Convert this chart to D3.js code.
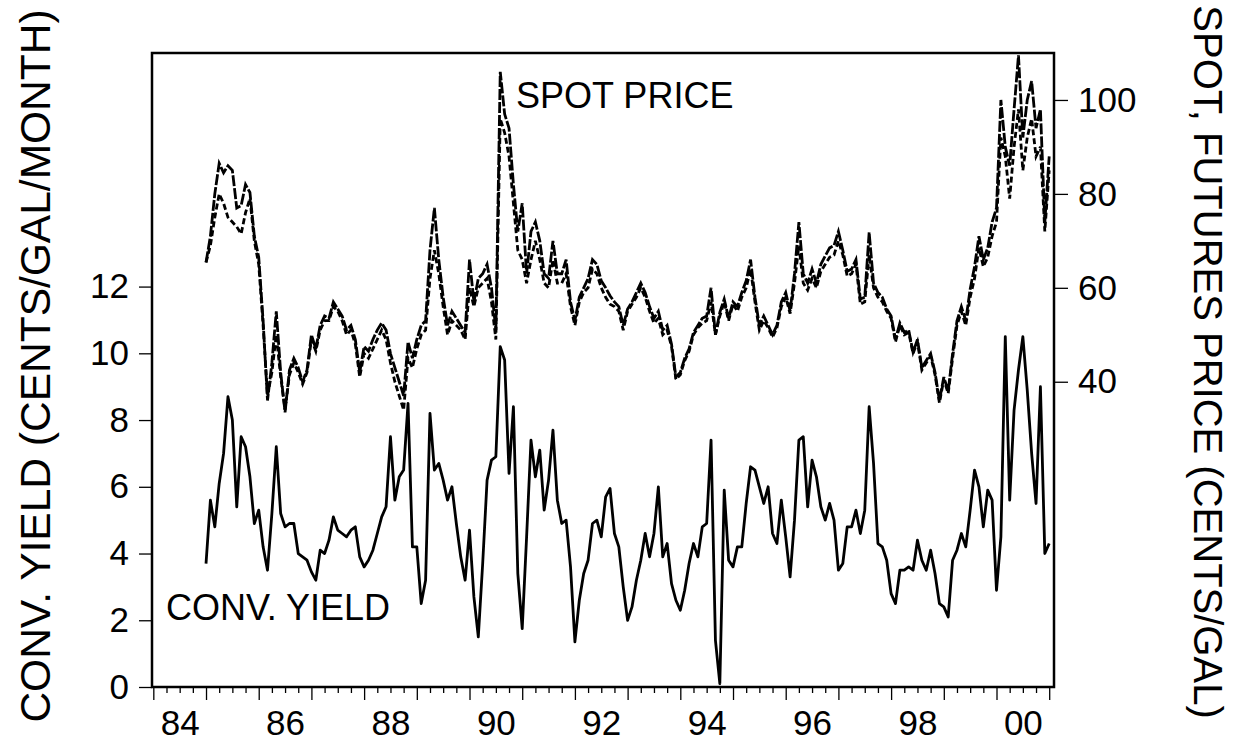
<!DOCTYPE html>
<html>
<head>
<meta charset="utf-8">
<script src="https://cdn.jsdelivr.net/npm/d3@7"></script>
<style>
  body { margin: 0; background: #fff; }
  svg text { font-family: "Liberation Sans", Arial, sans-serif; fill: #000; }
</style>
</head>
<body>
<div id="viz"></div>
<script>
// monthly values, Jan 1985 .. Jan 2001
const startYear = 1985;

const convYield = [
  3.7, 5.6, 4.8, 6.1, 7.0, 8.7, 8.0, 5.4, 7.5, 7.2, 6.3, 4.9,
  5.3, 4.2, 3.5, 5.2, 7.2, 5.2, 4.8, 4.9, 4.9, 4.0, 3.9, 3.8,
  3.45, 3.2, 4.1, 4.0, 4.4, 5.1, 4.7, 4.6, 4.5, 4.7, 4.8, 3.9,
  3.6, 3.8, 4.1, 4.6, 5.1, 5.4, 7.5, 5.6, 6.3, 6.5, 8.5, 4.2,
  4.2, 2.5, 3.2, 8.2, 6.5, 6.7, 6.2, 5.6, 6.0, 4.9, 3.9, 3.2,
  4.7, 2.7, 1.5, 3.7, 6.2, 6.8, 6.9, 10.2, 9.8, 6.4, 8.4, 3.4,
  1.75, 4.5, 7.4, 6.3, 7.1, 5.3, 6.2, 7.7, 5.6, 4.9, 5.0, 3.6,
  1.35, 2.6, 3.4, 3.8, 4.9, 5.0, 4.5, 5.7, 5.95, 4.6, 4.2, 3.0,
  2.0, 2.4, 3.2, 3.8, 4.6, 3.9, 4.6, 6.0, 3.9, 4.3, 3.1, 2.6,
  2.3, 2.9, 3.7, 4.3, 3.9, 4.8, 4.9, 7.4, 1.4, 0.1, 5.9, 3.8,
  3.6, 4.2, 4.2, 5.5, 6.6, 6.5, 6.0, 5.5, 6.0, 4.6, 4.3, 5.6,
  4.5, 3.3, 5.0, 7.4, 7.5, 5.4, 6.8, 6.3, 5.4, 5.0, 5.5, 5.0,
  3.5, 3.7, 4.8, 4.8, 5.3, 4.6, 5.3, 8.4, 6.7, 4.3, 4.2, 3.8,
  2.8, 2.5, 3.5, 3.5, 3.6, 3.5, 4.4, 3.8, 3.5, 4.1, 3.4, 2.5,
  2.4, 2.1, 3.8, 4.1, 4.6, 4.2, 5.3, 6.5, 6.0, 4.8, 5.9, 5.6,
  2.9, 4.5, 10.5, 5.6, 8.3, 9.5, 10.5, 8.9, 7.0, 5.5, 9.0, 4.0,
  4.3
];

const spotPrice = [
  65.4, 71, 80, 86.5, 84.5, 86, 85, 77, 77.5, 82, 80.3, 71,
  66.5, 53, 36, 44, 55, 42, 33.5, 42.5, 45, 43, 40, 42.5,
  50, 47, 52, 54, 53.5, 57, 55.5, 54, 51, 52, 49, 42,
  47.5, 46.5, 49, 51, 52.5, 51, 46, 43, 40, 37, 48.5, 45,
  49, 52, 53, 68, 77, 66, 58, 52, 55, 53.5, 52, 50.5,
  66, 57, 62, 63, 65, 60, 51, 106, 97, 94, 82, 72,
  78, 63, 72, 74, 70, 63, 62, 70, 63, 63, 66, 57,
  53, 58, 60, 62, 66, 65, 61.5, 60, 58.3, 57, 56, 52,
  55.5, 57, 59, 61, 59, 56, 53.5, 55, 51, 52, 48, 41,
  42, 45, 47, 50.5, 52, 53.5, 54, 60, 50, 54.8, 57.6, 53.5,
  57, 56, 59, 61.5, 66, 58, 52, 54, 52, 50, 52, 57,
  59, 55, 63, 74, 63, 61, 64, 61, 65, 66.8, 68.5, 69,
  72, 68, 63.5, 64, 66, 57.6, 58, 71.8, 61, 59, 58, 55.5,
  54, 49, 52.5, 50.5, 51, 46.3, 49, 43, 44.5, 46, 42, 36,
  41, 38, 46, 53, 56, 53, 59.7, 64.5, 71, 66, 68.5, 74,
  77, 100, 90, 86, 98, 109.5, 92, 100, 104, 94, 98, 74,
  88
];

const futuresPrice = [
  65.4, 69, 75, 80, 78, 75, 74, 73, 71.5, 76, 79, 70,
  65, 52, 37, 42, 50, 41, 34, 41.5, 44, 42, 39.5, 42,
  49, 46.5, 51, 53, 53, 56, 55, 53, 50, 51, 48, 41,
  46, 45, 47, 49, 51, 49, 44, 40, 37, 34, 45, 43,
  47, 50, 51, 62, 68, 63, 56, 50, 53, 52, 51, 49,
  60, 56, 60, 61, 62, 57, 49, 96, 93, 88, 78, 68,
  66, 61, 66, 70, 66, 61, 60, 66, 61, 61, 63, 56,
  52, 57, 59, 60, 64, 63, 60, 58, 56.5, 56, 55, 51,
  55, 56.5, 58, 60, 58, 55, 52.5, 53.5, 50, 51, 47.5, 40.5,
  41.5, 44.5, 46.5, 50, 51.5, 52.5, 53, 57, 50, 54, 57, 53,
  56.5, 55, 58, 60, 64, 57, 51, 53, 51.5, 49.5, 51.5, 56,
  58, 54.5, 61, 69, 61, 59.5, 62, 60, 63.5, 65, 66.5, 67,
  70, 67, 62.5, 63, 65, 56.5, 57, 67, 60, 58, 57, 55,
  53.5, 48.5, 52, 50, 50.5, 46, 48.5, 42.5, 44, 45.5, 41.5, 35.5,
  40.5, 37.5, 45, 52, 55, 52, 58, 62, 68.5, 64.5, 66.5, 71,
  74, 92, 88, 79, 90, 98, 85, 92, 96, 88, 90, 72,
  85
];

const yearLabels = ['84', '86', '88', '90', '92', '94', '96', '98', '00'];
const labelYears = [1984, 1986, 1988, 1990, 1992, 1994, 1996, 1998, 2000];
const leftTicks = [0, 2, 4, 6, 8, 10, 12];
const rightTicks = [40, 60, 80, 100];

const W = 1237, H = 742,
    margin = {top: 53, right: 183, bottom: 55, left: 152},
    width = W - margin.left - margin.right,
    height = H - margin.top - margin.bottom;

const svg = d3.select('#viz').append('svg')
    .attr('width', W)
    .attr('height', H);

const g = svg.append('g')
    .attr('transform', 'translate(' + margin.left + ',' + margin.top + ')');

const x = d3.scaleLinear()
    .domain([1983.975, 2001.091])
    .range([0, width]);

const yLeft = d3.scaleLinear()
    .domain([0, 19])
    .range([height, 0]);

const yRight = d3.scaleLinear()
    .domain([-25, 110])
    .range([height, 0]);

const dateOf = i => startYear + i / 12;

g.append('clipPath').attr('id', 'plotclip')
    .append('rect').attr('width', width).attr('height', height);

const plot = g.append('g').attr('clip-path', 'url(#plotclip)');

const priceLine = d3.line()
    .x((d, i) => x(dateOf(i)))
    .y(d => yRight(d));

const yieldLine = d3.line()
    .x((d, i) => x(dateOf(i)))
    .y(d => yLeft(d));

plot.append('path')
    .datum(futuresPrice)
    .attr('d', priceLine)
    .attr('fill', 'none')
    .attr('stroke', '#000')
    .attr('stroke-width', 2.8)
    .attr('stroke-dasharray', '6,3');

plot.append('path')
    .datum(spotPrice)
    .attr('d', priceLine)
    .attr('fill', 'none')
    .attr('stroke', '#000')
    .attr('stroke-width', 2.8)
    .attr('stroke-dasharray', '11,2');

plot.append('path')
    .datum(convYield)
    .attr('d', yieldLine)
    .attr('fill', 'none')
    .attr('stroke', '#000')
    .attr('stroke-width', 2.8)
    .attr('stroke-linejoin', 'round');

// axes
const styleAxis = sel => {
    sel.select('.domain').remove();
    sel.selectAll('line').attr('stroke', '#000').attr('stroke-width', 1.3);
    sel.selectAll('text').style('font-size', '35px').attr('fill', '#000');
};

g.append('g')
    .call(d3.axisLeft(yLeft).tickValues(leftTicks).tickSize(13).tickPadding(10).tickFormat(d3.format('d')))
    .call(styleAxis);

g.append('g')
    .attr('transform', 'translate(' + width + ',0)')
    .call(d3.axisRight(yRight).tickValues(rightTicks).tickSize(14).tickPadding(10).tickFormat(d3.format('d')))
    .call(styleAxis);

const years = d3.range(1984, 2002);
const quarters = d3.range(1984, 2001.01, 0.25).filter(q => q % 1 !== 0);

g.append('g')
    .attr('transform', 'translate(0,' + height + ')')
    .call(d3.axisBottom(x).tickValues(years).tickSize(13).tickFormat(''))
    .call(styleAxis);

g.append('g')
    .attr('transform', 'translate(0,' + height + ')')
    .call(d3.axisBottom(x).tickValues(quarters).tickSize(6).tickFormat(''))
    .call(styleAxis);

g.append('g')
    .attr('transform', 'translate(0,' + height + ')')
    .call(d3.axisBottom(x).tickValues(labelYears.map(y => y + 0.5)).tickSize(0).tickPadding(23)
        .tickFormat((d, i) => yearLabels[i]))
    .call(styleAxis);

// frame
g.append('rect')
    .attr('width', width)
    .attr('height', height)
    .attr('fill', 'none')
    .attr('stroke', '#000')
    .attr('stroke-width', 2.5);

// annotations
g.append('text')
    .attr('x', 516 - margin.left)
    .attr('y', 108 - margin.top)
    .style('font-size', '36px')
    .text('SPOT PRICE');

g.append('text')
    .attr('x', 166 - margin.left)
    .attr('y', 620 - margin.top)
    .style('font-size', '36px')
    .text('CONV. YIELD');

// axis titles
svg.append('text')
    .attr('transform', 'translate(50,366) rotate(-90)')
    .attr('text-anchor', 'middle')
    .style('font-size', '42.5px')
    .text('CONV. YIELD (CENTS/GAL/MONTH)');

svg.append('text')
    .attr('transform', 'translate(1194,362) rotate(90)')
    .attr('text-anchor', 'middle')
    .style('font-size', '40px')
    .text('SPOT, FUTURES PRICE (CENTS/GAL)');
</script>
</body>
</html>
